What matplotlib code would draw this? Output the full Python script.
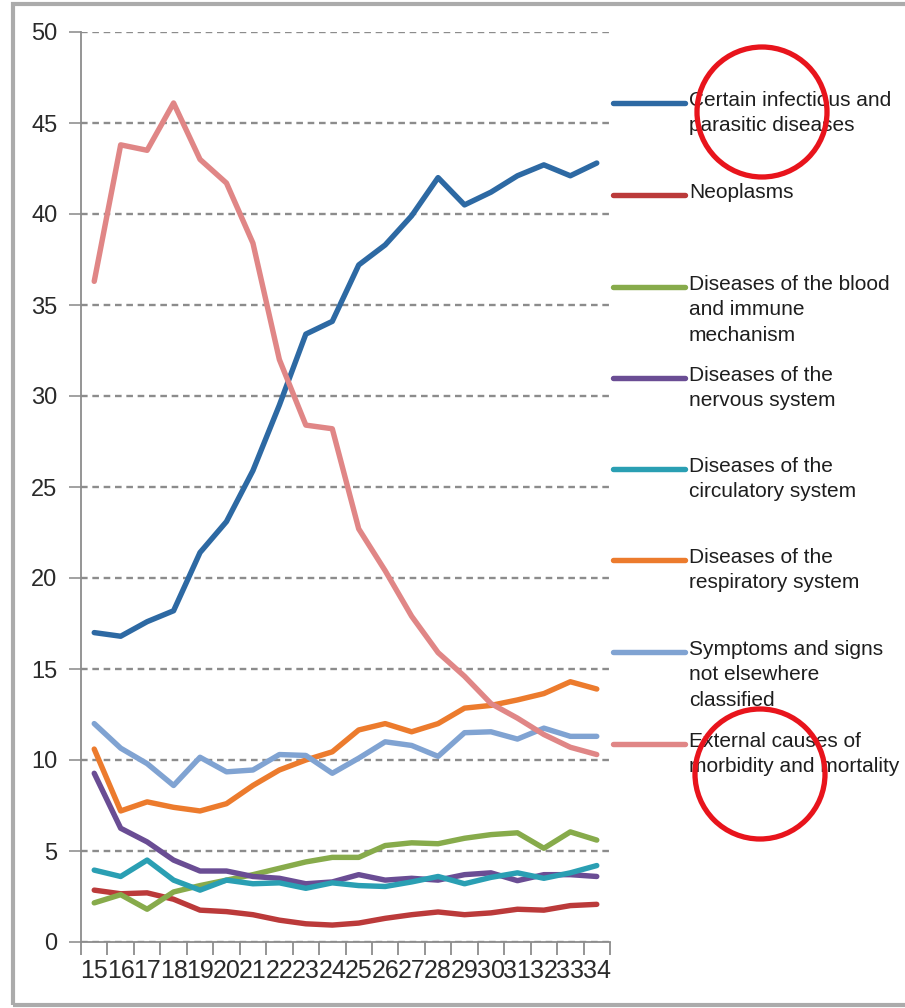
import matplotlib
matplotlib.use("Agg")
import matplotlib.pyplot as plt
from matplotlib.lines import Line2D
from matplotlib.patches import Ellipse, Rectangle
from matplotlib.ticker import FixedLocator, NullFormatter

plt.rcParams["font.family"] = ["Liberation Sans", "DejaVu Sans"]

# Age categories along the x axis
ages = [str(a) for a in range(15, 35)]

infectious = [17.0, 16.8, 17.6, 18.2, 21.4, 23.1, 25.9, 29.5, 33.4, 34.1,
              37.2, 38.3, 39.9, 42.0, 40.5, 41.2, 42.1, 42.7, 42.1, 42.8]
neoplasms = [2.85, 2.65, 2.7, 2.35, 1.75, 1.67, 1.5, 1.2, 1.0, 0.93,
             1.04, 1.3, 1.5, 1.65, 1.5, 1.6, 1.8, 1.75, 2.0, 2.07]
blood = [2.15, 2.6, 1.8, 2.75, 3.1, 3.4, 3.7, 4.05, 4.4, 4.65,
         4.65, 5.3, 5.45, 5.4, 5.7, 5.9, 6.0, 5.15, 6.05, 5.6]
nervous = [9.27, 6.25, 5.5, 4.5, 3.9, 3.9, 3.6, 3.5, 3.2, 3.3,
           3.7, 3.4, 3.5, 3.4, 3.7, 3.8, 3.37, 3.7, 3.7, 3.6]
circulatory = [3.95, 3.6, 4.5, 3.4, 2.85, 3.4, 3.2, 3.25, 2.95, 3.25,
               3.1, 3.05, 3.3, 3.6, 3.2, 3.55, 3.8, 3.5, 3.8, 4.2]
respiratory = [10.6, 7.2, 7.7, 7.4, 7.2, 7.6, 8.6, 9.45, 10.0, 10.45,
               11.65, 12.0, 11.55, 12.0, 12.85, 13.0, 13.3, 13.65, 14.3, 13.9]
symptoms = [12.0, 10.65, 9.8, 8.6, 10.15, 9.35, 9.45, 10.3, 10.25, 9.27,
            10.1, 11.0, 10.8, 10.2, 11.5, 11.55, 11.15, 11.75, 11.3, 11.3]
external = [36.3, 43.8, 43.5, 46.1, 43.0, 41.7, 38.4, 32.0, 28.4, 28.2,
            22.7, 20.4, 17.9, 15.9, 14.6, 13.1, 12.3, 11.4, 10.7, 10.3]

series_labels = [
    "Certain infectious and\nparasitic diseases",
    "Neoplasms",
    "Diseases of the blood\nand immune\nmechanism",
    "Diseases of the\nnervous system",
    "Diseases of the\ncirculatory system",
    "Diseases of the\nrespiratory system",
    "Symptoms and signs\nnot elsewhere\nclassified",
    "External causes of\nmorbidity and mortality",
]
series_values = [infectious, neoplasms, blood, nervous,
                 circulatory, respiratory, symptoms, external]
series_colors = ["#2d69a3", "#bb3a3a", "#87ab4b", "#6a4d94",
                 "#2a9fb3", "#ec7b2d", "#80a3d2", "#e08686"]

W, H = 905, 1008
fig = plt.figure(figsize=(W / 100, H / 100), dpi=100)
fig.patch.set_facecolor("white")

def fx(px):
    return px / W

def fy(py):
    return 1 - py / H

ax = fig.add_axes([fx(81), fy(942), fx(610) - fx(81), fy(32) - fy(942)])

x = list(range(len(ages)))
# draw the external-causes line first so the others sit on top of it
order = [7, 0, 5, 6, 2, 3, 4, 1]
for i in order:
    ax.plot(x, series_values[i], color=series_colors[i], lw=3.9,
            solid_joinstyle="round", solid_capstyle="round", zorder=3 + i * 0.01)

ax.set_xlim(-0.5, len(ages) - 0.5)
ax.set_ylim(0, 50)
ax.set_yticks(range(0, 51, 5))
ax.yaxis.grid(True, linestyle=(0, (2.8, 2.0)), color="#8c8c8c", lw=1.7)
ax.set_axisbelow(True)

ax.set_xticks(x)
ax.set_xticklabels(ages)
ax.xaxis.set_minor_locator(FixedLocator([v - 0.5 for v in range(len(ages) + 1)]))
ax.xaxis.set_minor_formatter(NullFormatter())
ax.tick_params(axis="x", which="major", length=0, pad=12, labelsize=18,
               labelcolor="#2a2a2a")
ax.tick_params(axis="x", which="minor", length=9, width=1.3, color="#8c8c8c",
               direction="out")
ax.tick_params(axis="y", length=9, width=1.3, color="#9a9a9a", pad=8,
               labelsize=17, labelcolor="#2a2a2a")

for s in ["top", "right"]:
    ax.spines[s].set_visible(False)
for s in ["left", "bottom"]:
    ax.spines[s].set_color("#8c8c8c")
    ax.spines[s].set_linewidth(1.3)

# legend: line sample with the label's first line beside it
legend_y = [103, 195, 287, 378, 469, 560, 652, 744]
for ly, lab, col in zip(legend_y, series_labels, series_colors):
    fig.add_artist(Line2D([fx(613), fx(685)], [fy(ly), fy(ly)], color=col,
                          lw=3.9, solid_capstyle="round"))
    fig.text(fx(689), fy(ly - 12), lab, ha="left", va="top", fontsize=15,
             color="#1e1e1e", linespacing=1.42)

# outer frame of the chart
fig.add_artist(Rectangle((fx(13), fy(1005)), fx(950) - fx(13), fy(4) - fy(1005),
                         fill=False, edgecolor="#ababab", lw=3,
                         transform=fig.transFigure))

# highlight circles
r = 65
for cx, cy in [(762, 112), (760, 774)]:
    fig.add_artist(Ellipse((fx(cx), fy(cy)), 2 * r / W, 2 * r / H, fill=False,
                           edgecolor="#e8141c", lw=3.8, transform=fig.transFigure,
                           zorder=10))

fig.savefig("out.png", dpi=100, facecolor="white")
